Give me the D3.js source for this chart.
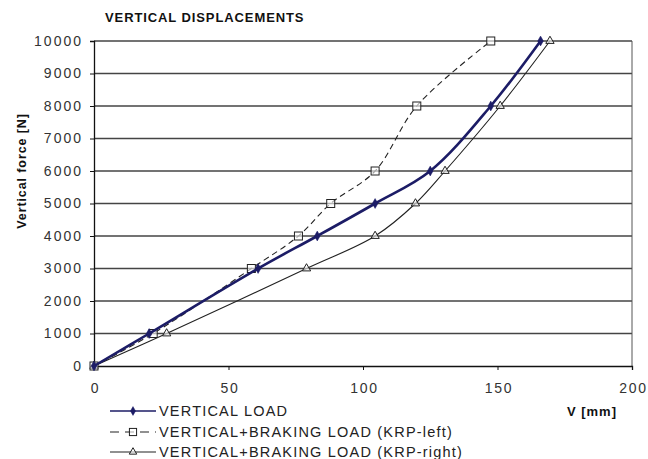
<!DOCTYPE html>
<html>
<head>
<meta charset="utf-8">
<script src="https://cdn.jsdelivr.net/npm/d3@7/dist/d3.min.js"></script>
<style>
  html, body { margin: 0; padding: 0; background: #fff; }
  svg { display: block; font-family: Arial, "Liberation Sans", sans-serif; }
</style>
</head>
<body>
<svg id="chart" width="648" height="459"></svg>
<script>
// Vertical force levels [N]
const forceLevels = [0, 1000, 3000, 4000, 5000, 6000, 8000, 10000];
// Displacement V [mm] for each load case
const verticalLoad = [0, 20.5, 61, 83, 104.5, 125, 147.5, 166];
const brakingLeft  = [0, 22, 58.5, 76, 88, 104.5, 120, 147.5];
const brakingRight = [0, 27, 79, 104.5, 119.5, 130.5, 151, 169.5];

const yTicks = [0, 1000, 2000, 3000, 4000, 5000, 6000, 7000, 8000, 9000, 10000];
const xTicks = [0, 50, 100, 150, 200];

const seriesNames = [
  "VERTICAL LOAD",
  "VERTICAL+BRAKING LOAD (KRP-left)",
  "VERTICAL+BRAKING LOAD (KRP-right)"
];

const svg = d3.select("#chart");
const plot = { left: 94, right: 632, top: 41, bottom: 366 };

const x = d3.scaleLinear().domain([0, 200]).range([plot.left, plot.right]);
const y = d3.scaleLinear().domain([0, 10000]).range([plot.bottom, plot.top]);

// Title
svg.append("text")
  .attr("x", 105).attr("y", 22)
  .attr("font-size", 13).attr("font-weight", "bold").attr("fill", "#111")
  .attr("letter-spacing", 0.9)
  .text("VERTICAL DISPLACEMENTS");

// Horizontal gridlines
svg.append("g").selectAll("line").data(yTicks.filter(d => d > 0)).join("line")
  .attr("x1", plot.left).attr("x2", plot.right)
  .attr("y1", d => y(d)).attr("y2", d => y(d))
  .attr("stroke", "#444").attr("stroke-width", 1.3);

// Right border of plot area
svg.append("line")
  .attr("x1", plot.right).attr("x2", plot.right)
  .attr("y1", plot.top).attr("y2", plot.bottom)
  .attr("stroke", "#555").attr("stroke-width", 1);

// Y axis
const yAxis = svg.append("g")
  .attr("transform", `translate(${plot.left},0)`)
  .call(d3.axisLeft(y).tickValues(yTicks).tickSize(4).tickPadding(7).tickFormat(d3.format("d")));
yAxis.select(".domain").attr("stroke", "#111").attr("stroke-width", 1.3);
yAxis.selectAll(".tick line").attr("stroke", "#111");
yAxis.selectAll(".tick text").attr("font-size", 14).attr("fill", "#333")
  .attr("letter-spacing", 2)
  .attr("font-family", "Arial, 'Liberation Sans', sans-serif");

// X axis
const xAxis = svg.append("g")
  .attr("transform", `translate(0,${plot.bottom})`)
  .call(d3.axisBottom(x).tickValues(xTicks).tickSize(4).tickPadding(13).tickFormat(d3.format("d")));
xAxis.select(".domain").attr("stroke", "#111").attr("stroke-width", 1.3);
xAxis.selectAll(".tick line").attr("stroke", "#111");
xAxis.selectAll(".tick text").attr("font-size", 14).attr("fill", "#333")
  .attr("letter-spacing", 1.8).attr("dx", 1)
  .attr("font-family", "Arial, 'Liberation Sans', sans-serif");

// Axis titles
svg.append("text")
  .attr("transform", "translate(26,171) rotate(-90)")
  .attr("text-anchor", "middle")
  .attr("font-size", 12.5).attr("font-weight", "bold").attr("fill", "#111")
  .attr("letter-spacing", 0.9)
  .text("Vertical force [N]");

svg.append("text")
  .attr("x", 617).attr("y", 416)
  .attr("text-anchor", "end")
  .attr("font-size", 13).attr("font-weight", "bold").attr("fill", "#111")
  .attr("letter-spacing", 1)
  .text("V [mm]");

// Series
const series = [
  { name: seriesNames[0], values: verticalLoad, color: "#1c1c66", width: 2.6, dash: null, marker: "diamond" },
  { name: seriesNames[1], values: brakingLeft,  color: "#222",    width: 1.1, dash: "6,4", marker: "square" },
  { name: seriesNames[2], values: brakingRight, color: "#222",    width: 1.1, dash: null, marker: "triangle" }
];

const line = d3.line()
  .x(d => x(d[0])).y(d => y(d[1]))
  .curve(d3.curveCatmullRom.alpha(0.5));

function drawMarker(g, type, cx, cy, color, scale = 1) {
  if (type === "diamond") {
    g.append("path")
      .attr("d", d3.symbol(d3.symbolDiamond, 28 * scale)())
      .attr("transform", `translate(${cx},${cy})`)
      .attr("fill", color).attr("stroke", color).attr("stroke-width", 0.5);
  } else if (type === "square") {
    const h = 4 * Math.sqrt(scale);
    g.append("rect")
      .attr("x", cx - h).attr("y", cy - h).attr("width", 2 * h).attr("height", 2 * h)
      .attr("fill", "#fff").attr("fill-opacity", 0.6)
      .attr("stroke", color).attr("stroke-width", 1);
  } else {
    g.append("path")
      .attr("d", d3.symbol(d3.symbolTriangle, 30 * scale)())
      .attr("transform", `translate(${cx},${cy})`)
      .attr("fill", "#fff").attr("fill-opacity", 0.6)
      .attr("stroke", color).attr("stroke-width", 1);
  }
}

// Draw thin series first, heavy vertical-load line on top
[series[2], series[1], series[0]].forEach(s => {
  const pts = s.values.map((v, i) => [v, forceLevels[i]]);
  svg.append("path")
    .datum(pts)
    .attr("d", line)
    .attr("fill", "none")
    .attr("stroke", s.color)
    .attr("stroke-width", s.width)
    .attr("stroke-dasharray", s.dash);
  const mg = svg.append("g");
  pts.forEach(p => drawMarker(mg, s.marker, x(p[0]), y(p[1]), s.color));
});

// Legend
const legendRows = [411, 432, 452];
series.forEach((s, i) => {
  const ly = legendRows[i];
  const g = svg.append("g");
  g.append("line")
    .attr("x1", 110).attr("x2", 156).attr("y1", ly).attr("y2", ly)
    .attr("stroke", s.color).attr("stroke-width", i === 0 ? 1.6 : 1.1)
    .attr("stroke-dasharray", i === 1 ? "9,6" : null);
  drawMarker(g, s.marker, 133, ly, s.color, 0.8);
  g.append("text")
    .attr("x", 159).attr("y", ly + 5)
    .attr("font-size", 14.5).attr("fill", "#222")
    .attr("letter-spacing", 1.2)
    .text(s.name);
});
</script>
</body>
</html>
